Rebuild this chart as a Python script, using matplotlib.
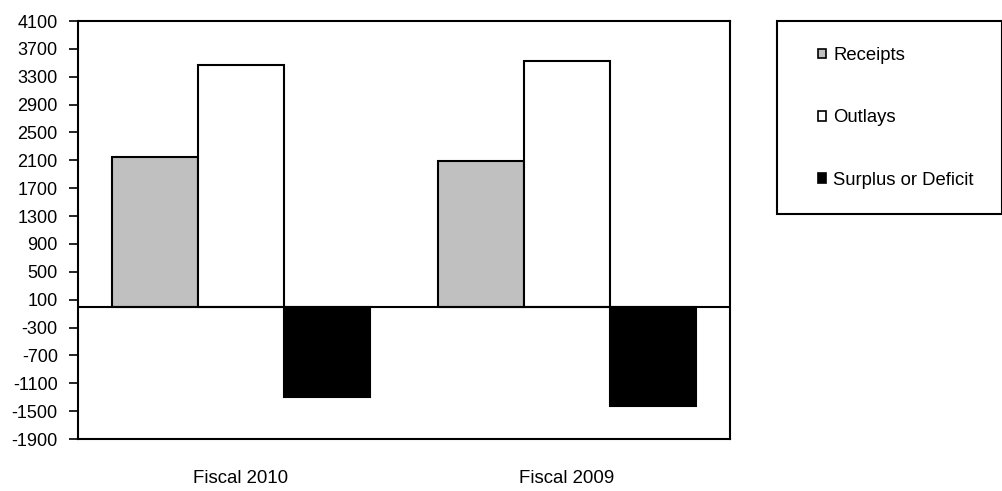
import matplotlib
matplotlib.use("Agg")
import matplotlib.pyplot as plt
from matplotlib.patches import Rectangle, Patch
import numpy as np

plt.rcParams['font.family'] = ['Liberation Sans', 'DejaVu Sans']

categories = ["Fiscal 2010", "Fiscal 2009"]
series_names = ["Receipts", "Outlays", "Surplus or Deficit"]
receipts = [2145, 2090]
outlays = [3470, 3525]
surplus = [-1300, -1420]
yticks = list(range(-1900, 4101, 400))

colors = ["#C0C0C0", "#FFFFFF", "#000000"]

W, H = 1003, 491
fig = plt.figure(figsize=(W / 100, H / 100), dpi=100)
ax = fig.add_axes([78 / W, (H - 439) / H, (730 - 78) / W, (439 - 21) / H])

x = np.arange(len(categories))
bw = 0.264
for i, (vals, c) in enumerate(zip([receipts, outlays, surplus], colors)):
    ax.bar(x + (i - 1) * bw, vals, width=bw, color=c, edgecolor="black",
           linewidth=1.5, label=series_names[i], zorder=2)

ax.axhline(0, color="black", linewidth=1.5, zorder=3)
ax.set_xlim(-0.5, 1.5)
ax.set_ylim(-1900, 4100)
ax.set_yticks(yticks)
ax.set_yticklabels([str(v) for v in yticks], fontsize=13)
ax.set_xticks(x)
ax.set_xticklabels(categories, fontsize=13.4)
ax.tick_params(axis="x", length=0, pad=22)
ax.tick_params(axis="y", direction="out", length=6.5, width=1.2, pad=8)
for s in ax.spines.values():
    s.set_linewidth(1.5)

# legend box
fig.patches.append(Rectangle((777 / W, (H - 214) / H), (1002 - 777) / W, (214 - 21) / H,
                             transform=fig.transFigure, facecolor="white",
                             edgecolor="black", linewidth=1.5, zorder=1))
handles = [Patch(facecolor=c, edgecolor="black", linewidth=1.2) for c in colors]
leg = fig.legend(handles, series_names, loc="upper left",
                 bbox_to_anchor=(809 / W, (H - 38) / H), frameon=False,
                 fontsize=13.3, handlelength=0.42, handleheight=0.42,
                 handletextpad=0.4, labelspacing=2.45, borderpad=0)

fig.savefig("out.png", dpi=100)
